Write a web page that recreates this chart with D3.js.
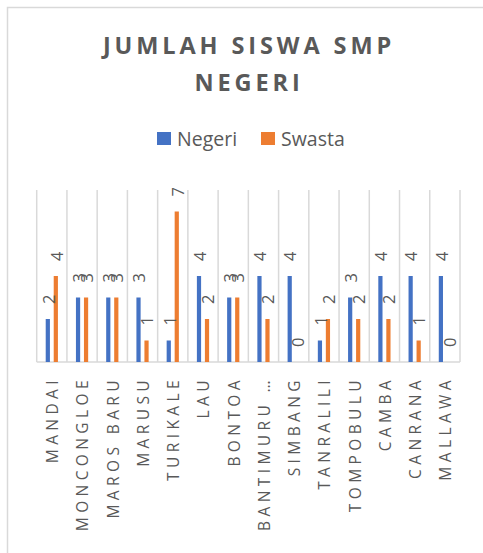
<!DOCTYPE html>
<html>
<head>
<meta charset="utf-8">
<script src="https://cdn.jsdelivr.net/npm/d3@7"></script>
<style>
  body { margin: 0; background: #fff; }
  text { font-family: "Open Sans", sans-serif; }
</style>
</head>
<body>
<div class="vis-chart"></div>
<script>
// data
var categories = ["MANDAI", "MONCONGLOE", "MAROS BARU", "MARUSU", "TURIKALE", "LAU", "BONTOA",
                  "BANTIMURU \u2026", "SIMBANG", "TANRALILI", "TOMPOBULU", "CAMBA", "CANRANA", "MALLAWA"];
var seriesNames = ["Negeri", "Swasta"];
var negeri = [2, 3, 3, 3, 1, 4, 3, 4, 4, 1, 3, 4, 4, 4];
var swasta = [4, 3, 3, 1, 7, 2, 3, 2, 0, 2, 2, 2, 1, 0];
var titleLines = ["JUMLAH SISWA SMP", "NEGERI"];

var colors = {Negeri: "#4472C4", Swasta: "#ED7D31"};
var textColor = "#595959";

var width = 483, height = 553;

var svg = d3.select(".vis-chart")
  .append("svg")
    .attr("width", width)
    .attr("height", height);

// chart frame (runs off the right and bottom)
svg.append("rect")
  .attr("x", 7.5).attr("y", 7.5)
  .attr("width", 500).attr("height", 560)
  .attr("fill", "none")
  .attr("stroke", "#d9d9d9")
  .attr("stroke-width", 1.5);

// title
svg.append("g")
  .selectAll("text")
  .data(titleLines)
  .enter()
  .append("text")
    .attr("x", 249)
    .attr("y", function (d, i) { return 54 + i * 37; })
    .attr("text-anchor", "middle")
    .style("font-size", "23.5px")
    .style("font-weight", "bold")
    .style("letter-spacing", "3.9px")
    .attr("fill", textColor)
    .text(function (d) { return d; });

// legend
var legendX = [157, 261];
var legend = svg.append("g")
  .selectAll("g")
  .data(seriesNames)
  .enter()
  .append("g")
    .attr("transform", function (d, i) { return "translate(" + legendX[i] + ",132)"; });
legend.append("rect")
  .attr("width", 14).attr("height", 13)
  .attr("fill", function (d) { return colors[d]; });
legend.append("text")
  .attr("x", 20).attr("y", 13.5)
  .style("font-size", "19.5px")
  .attr("fill", textColor)
  .text(function (d) { return d; });

// scales
var x0 = d3.scaleBand()
  .domain(categories)
  .range([36.7, 460])
  .padding(0);

var x1 = d3.scaleBand()
  .domain(seriesNames)
  .range([0, x0.bandwidth()])
  .paddingInner(0.475)
  .paddingOuter(1.125);

var y = d3.scaleLinear()
  .domain([0, 8])
  .range([362, 190]);

// vertical gridlines at category boundaries
var bounds = categories.map(function (c) { return x0(c); }).concat([x0.range()[1]]);
svg.append("g")
  .selectAll("line")
  .data(bounds)
  .enter()
  .append("line")
    .attr("x1", function (d) { return d; })
    .attr("x2", function (d) { return d; })
    .attr("y1", y(8))
    .attr("y2", y(0))
    .attr("stroke", "#d9d9d9")
    .attr("stroke-width", 1.5);

// x axis line
svg.append("line")
  .attr("x1", x0.range()[0]).attr("x2", x0.range()[1])
  .attr("y1", y(0)).attr("y2", y(0))
  .attr("stroke", "#d9d9d9")
  .attr("stroke-width", 1.5);

var rows = categories.map(function (c, i) {
  return [{cat: c, key: "Negeri", value: negeri[i]},
          {cat: c, key: "Swasta", value: swasta[i]}];
});

var groups = svg.append("g")
  .selectAll("g")
  .data(rows)
  .enter()
  .append("g")
    .attr("transform", function (d) { return "translate(" + x0(d[0].cat) + ",0)"; });

groups.selectAll("rect")
  .data(function (d) { return d; })
  .enter()
  .append("rect")
    .attr("x", function (d) { return x1(d.key); })
    .attr("y", function (d) { return y(d.value); })
    .attr("width", x1.bandwidth())
    .attr("height", function (d) { return y(0) - y(d.value); })
    .attr("fill", function (d) { return colors[d.key]; });

// rotated data labels
groups.selectAll("text")
  .data(function (d) { return d; })
  .enter()
  .append("text")
    .attr("transform", function (d) {
      return "translate(" + (x1(d.key) + x1.bandwidth() / 2 + 1) + "," + (y(d.value) - 15) + ") rotate(-90)";
    })
    .attr("dy", "0.35em")
    .style("font-size", "16.5px")
    .attr("fill", textColor)
    .text(function (d) { return d.value; });

// category labels, rotated
svg.append("g")
  .selectAll("text")
  .data(categories)
  .enter()
  .append("text")
    .attr("transform", function (d) {
      return "translate(" + (x0(d) + x0.bandwidth() / 2 + 1) + ",376) rotate(-90)";
    })
    .attr("dy", "0.35em")
    .attr("text-anchor", "end")
    .style("font-size", "15.5px")
    .style("letter-spacing", "4.4px")
    .attr("fill", textColor)
    .text(function (d) { return d; });
</script>
</body>
</html>
